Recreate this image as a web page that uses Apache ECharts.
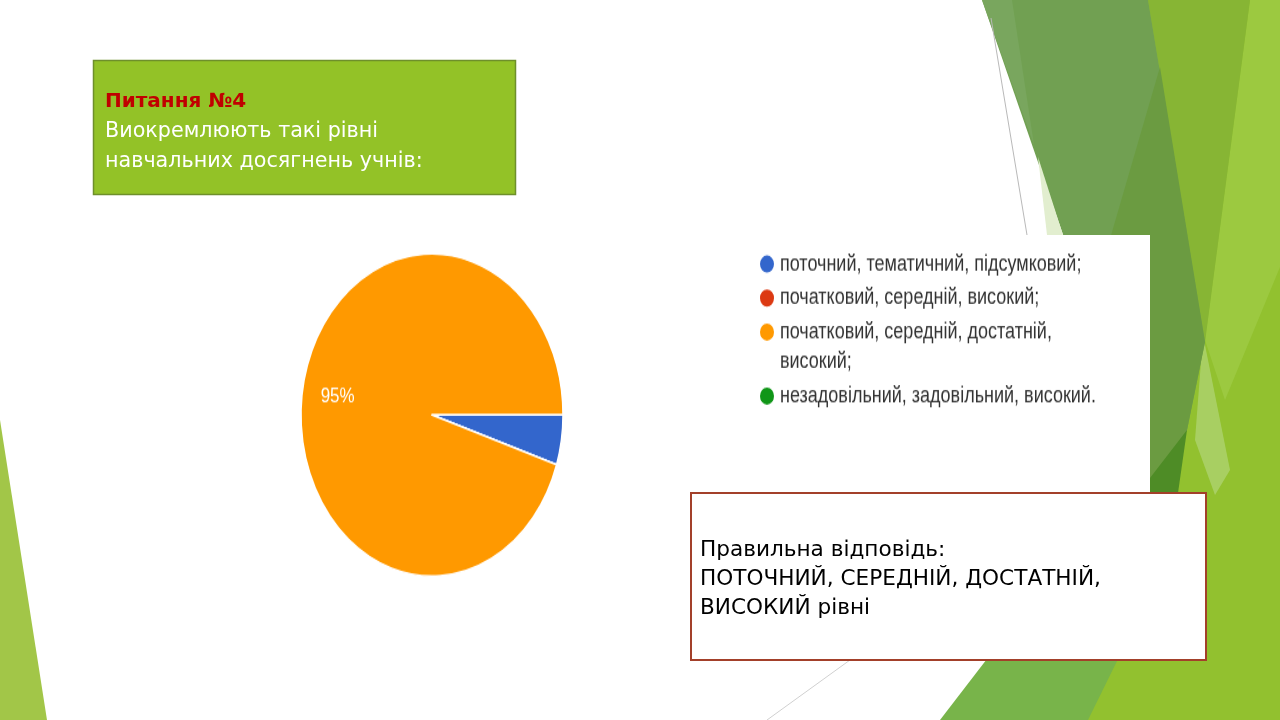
<!DOCTYPE html>
<html><head><meta charset="utf-8">
<script src="https://cdn.jsdelivr.net/npm/echarts@6/dist/echarts.min.js"></script>
<style>
html,body{margin:0;padding:0;width:1280px;height:720px;overflow:hidden;background:#fff}
#base{position:absolute;left:0;top:0;width:1280px;height:720px}
#shot{position:absolute;left:240px;top:235px;width:940px;height:300px;transform:scaleY(1.23);transform-origin:0 0}
</style></head><body>
<div id="base"></div><div id="shot"></div>
<script>
// ---- data ----
const categories = [
  'поточний, тематичний, підсумковий;',
  'початковий, середній, високий;',
  'початковий, середній, достатній, високий;',
  'незадовільний, задовільний, високий.'
];
const shares = [5, 0, 95, 0];
const sliceColors = ['#3366cc', '#dc3912', '#ff9900', '#109618'];
const titleHead = 'Питання №4';
const titleLines = ['Виокремлюють такі рівні', 'навчальних досягнень учнів:'];
const answerLines = ['Правильна відповідь:', 'ПОТОЧНИЙ, СЕРЕДНІЙ, ДОСТАТНІЙ,', 'ВИСОКИЙ рівні'];

// ---- slide background ----
const base = echarts.init(document.getElementById('base'), null, {renderer: 'canvas'});
function poly(points, fill) { return {type: 'polygon', shape: {points: points}, style: {fill: fill}, silent: true}; }
const slideFont = '"DejaVu Sans", Tahoma, sans-serif';
const g = [
  poly([[0,420],[47,720],[0,720]], '#a2c648'),
  {type: 'rect', shape: {x: 1140, y: 0, width: 140, height: 720}, style: {fill: '#92c12f'}, silent: true},
  poly([[1150,470],[1150,720],[1080,720]], '#92c12f'),
  poly([[1250,0],[1280,0],[1280,267],[1225,400],[1205,340]], '#9cc940'),
  poly([[1203,335],[1230,470],[1215,495],[1195,440]], '#a8cf62'),
  poly([[1148,0],[1250,0],[1205,342]], '#87b534'),
  poly([[982,0],[1148,0],[1205,342],[1187,430],[1153,495]], '#71a052'),
  poly([[982,0],[1012,0],[1034,145]], '#79a65e'),
  poly([[1160,67],[1205,342],[1187,430],[1153,495],[1089,311]], '#6b9b41'),
  poly([[1038,157],[1063,235],[1047,235]], '#e2eecf'),
  poly([[1150,478],[1187,430],[1178,493],[1150,493]], '#4e8c26'),
  poly([[940,720],[990,655],[1120,655],[1088,720]], '#78b44a'),
  {type: 'line', shape: {x1: 991, y1: 18, x2: 1027, y2: 235}, style: {stroke: '#b9b9b9', lineWidth: 1}, silent: true},
  {type: 'line', shape: {x1: 850, y1: 660, x2: 767, y2: 720}, style: {stroke: '#d0d0d0', lineWidth: 1}, silent: true},
  {type: 'rect', shape: {x: 240, y: 235, width: 910, height: 257}, style: {fill: '#ffffff'}, silent: true},
  {type: 'rect', shape: {x: 93.5, y: 60.5, width: 422, height: 134}, style: {fill: '#93c227', stroke: '#6e8f2b', lineWidth: 1.5}, silent: true},
  {type: 'text', x: 105, y: 101.5, style: {text: titleHead, font: 'bold 20px ' + slideFont, fill: '#c00000', verticalAlign: 'middle'}, silent: true},
  {type: 'text', x: 105, y: 131.5, style: {text: titleLines[0], font: '20.7px ' + slideFont, fill: '#ffffff', verticalAlign: 'middle'}, silent: true},
  {type: 'text', x: 105, y: 161.5, style: {text: titleLines[1], font: '20.7px ' + slideFont, fill: '#ffffff', verticalAlign: 'middle'}, silent: true},
  {type: 'rect', shape: {x: 691, y: 493, width: 515, height: 167}, style: {fill: '#ffffff', stroke: '#a3402a', lineWidth: 2}, silent: true}
];
answerLines.forEach(function (t, i) {
  g.push({type: 'text', x: 700, y: 550.5 + i * 29, style: {text: t, font: '21.6px ' + slideFont, fill: '#000000', verticalAlign: 'middle'}, silent: true});
});
base.setOption({backgroundColor: '#ffffff', animation: false, graphic: {elements: g}});

// ---- Google-Forms style pie (screenshot stretched vertically) ----
const shot = echarts.init(document.getElementById('shot'), null, {renderer: 'canvas'});
const pieData = categories.map(function (c, i) { return {name: c, value: shares[i], itemStyle: {color: sliceColors[i]}}; });
const legendFont = {fontFamily: '"Liberation Sans", Arial, sans-serif', fontSize: 18, color: '#333333', lineHeight: 24};
shot.setOption({
  backgroundColor: 'transparent',
  animation: false,
  legend: [
    {
      orient: 'vertical', left: 518, top: 11.6, padding: 0, itemGap: 3.6,
      icon: 'circle', itemWidth: 16, itemHeight: 16, selectedMode: false,
      textStyle: legendFont,
      data: [0, 1].map(function (i) { return {name: categories[i], itemStyle: {color: sliceColors[i]}}; })
    },
    {
      orient: 'vertical', left: 518, top: 42.9, padding: 0, itemGap: 4,
      icon: 'circle', itemWidth: 16, itemHeight: 16, selectedMode: false,
      textStyle: legendFont,
      formatter: function (name) { return name === categories[2] ? '\n' + name.replace(/ (високий;)$/, '\n$1') : name; },
      data: [
        {name: categories[2], itemStyle: {color: sliceColors[2]}},
        {name: categories[3], itemStyle: {color: sliceColors[3]}}
      ]
    }
  ],
  series: [
    {
      type: 'pie', center: [192, 146.3], radius: [0, 131], startAngle: 0, clockwise: true,
      avoidLabelOverlap: false, silent: true,
      itemStyle: {borderColor: '#ffffff', borderWidth: 1.5},
      label: {show: false}, labelLine: {show: false},
      data: pieData
    },
    {
      type: 'pie', center: [192, 146.3], radius: [54, 131], startAngle: 0, clockwise: true,
      avoidLabelOverlap: false, silent: true,
      itemStyle: {color: 'rgba(0,0,0,0)', borderWidth: 0},
      label: {show: true, position: 'inside', color: '#ffffff', fontSize: 17, fontFamily: '"Liberation Sans", Arial, sans-serif',
        formatter: function (p) { return p.percent >= 10 ? Math.round(p.percent) + '%' : ''; }},
      labelLine: {show: false},
      data: categories.map(function (c, i) { return {name: c, value: shares[i]}; })
    }
  ]
});
</script>
</body></html>
